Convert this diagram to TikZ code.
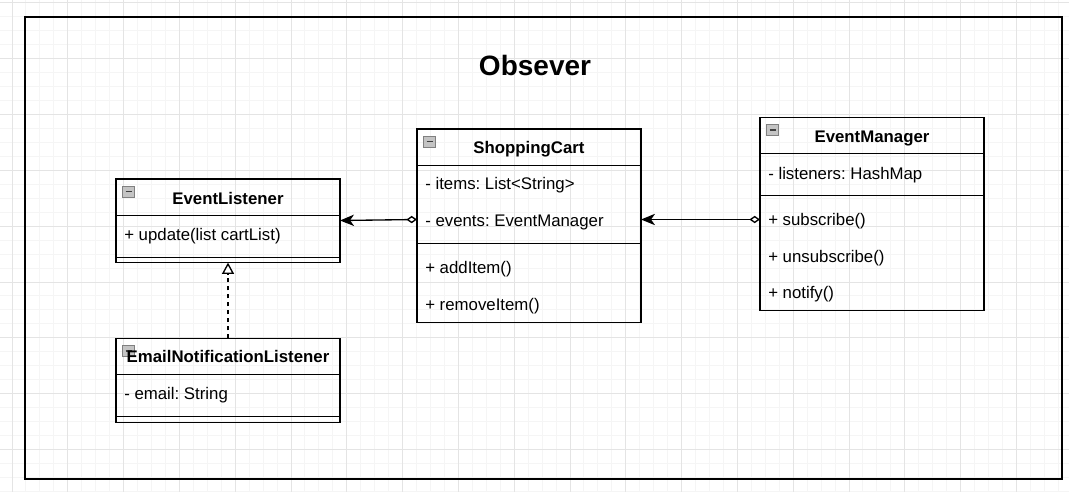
\documentclass[tikz,border=0pt]{standalone}
\usepackage{fontspec}
\setmainfont{Liberation Sans}
\usetikzlibrary{arrows.meta}
\definecolor{gridminor}{HTML}{F5F5F5}
\definecolor{gridmajor}{HTML}{E4E4E4}
\definecolor{iconfill}{HTML}{C4C4C4}
\definecolor{iconline}{HTML}{808080}
\newcommand{\rowfont}{\fontsize{12.6}{15}\selectfont}
\newcommand{\headfont}{\fontsize{12.6}{15}\selectfont\bfseries}
\frenchspacing
\tikzset{
  classbox/.style={draw, line width=1pt, inner sep=0, outer sep=0, anchor=north west, minimum width=168pt},
  member/.style={anchor=base west, inner sep=0, font=\rowfont},
  head/.style={anchor=base, inner sep=0, font=\headfont},
  divider/.style={line width=1pt},
  assoc/.style={line width=1pt, {Diamond[fill=white,length=8pt,width=5.5pt]}-{Stealth[length=10.5pt,width=8.5pt,inset=3pt]}},
  realize/.style={line width=1pt, dash pattern=on 3.2pt off 2.8pt, -{Triangle[fill=white,length=8.5pt,width=9pt]}},
}

\begin{document}
\begin{tikzpicture}[x=0.75pt, y=-0.75pt]

\fill[white] (0,0) rectangle (1069,492);
\useasboundingbox (0,0) rectangle (1069,492);

% canvas grid
\foreach \k in {0,...,75} {
  \pgfmathsetmacro\gx{12+\k*13.95}
  \draw[gridminor, line width=0.75pt] (\gx,0) -- (\gx,492);
}
\foreach \k in {0,...,35} {
  \pgfmathsetmacro\gy{3+\k*13.95}
  \draw[gridminor, line width=0.75pt] (0,\gy) -- (1069,\gy);
}
\foreach \k in {0,...,18} {
  \pgfmathsetmacro\gx{12+\k*55.8}
  \draw[gridmajor, line width=0.75pt] (\gx,0) -- (\gx,492);
}
\foreach \k in {0,...,8} {
  \pgfmathsetmacro\gy{3+\k*55.8}
  \draw[gridmajor, line width=0.75pt] (0,\gy) -- (1069,\gy);
}

% frame and title
\draw[line width=1.5pt] (25,17) rectangle (1062,478.5);
\node[anchor=base, inner sep=0, font=\fontsize{21}{25}\selectfont\bfseries] (title) at (535,75) {Obsever};

% classes
\node[classbox, minimum height=62.7pt] (el) at (116,179) {};
\node[classbox, minimum height=144.9pt] (sc) at (417,129) {};
\node[classbox, minimum height=144.9pt] (em) at (760,117.3) {};
\node[classbox, minimum height=63pt] (enl) at (116,338.3) {};

\draw[divider] ([shift={(0,36.4)}]el.north west) -- ++(224,0);
\draw[divider] ([shift={(0,78.4)}]el.north west) -- ++(224,0);
\draw[divider] ([shift={(0,36.4)}]sc.north west) -- ++(224,0);
\draw[divider] ([shift={(0,114.8)}]sc.north west) -- ++(224,0);
\draw[divider] ([shift={(0,36.4)}]em.north west) -- ++(224,0);
\draw[divider] ([shift={(0,78.4)}]em.north west) -- ++(224,0);
\draw[divider] ([shift={(0,36.4)}]enl.north west) -- ++(224,0);
\draw[divider] ([shift={(0,78.4)}]enl.north west) -- ++(224,0);

% collapse icons
\foreach \c in {el,sc,em,enl} {
  \draw[iconline, fill=iconfill, line width=0.6pt] ([shift={(6.5,7)}]\c.north west) rectangle ++(12,11);
  \draw[black!75, line width=1.1pt] ([shift={(9.5,12.5)}]\c.north west) -- ++(6,0);
}

\node[head] (elname) at (228,204.3) {EventListener};
\node[member] (elupdate) at (124,240) {+ update(list cartList)};

\node[head] (scname) at (529,153.3) {ShoppingCart};
\node[member] (scitems) at (425,189) {- items: List<String>};
\node[member] (scevents) at (425,226) {- events: EventManager};
\node[member] (scadd) at (425,273.5) {+ addItem()};
\node[member] (scremove) at (425,310) {+ removeItem()};

\node[head] (emname) at (872,142.3) {EventManager};
\node[member] (emlisteners) at (768,179) {- listeners: HashMap};
\node[member] (emsub) at (768,225) {+ subscribe()};
\node[member] (emunsub) at (768,262) {+ unsubscribe()};
\node[member] (emnotify) at (768,298.5) {+ notify()};

\node[head] (enlname) at (228,362.7) {EmailNotificationListener};
\node[member] (enlemail) at (124,399.3) {- email: String};

% relations
\draw[assoc] (sc.west |- 0,219.5) -- (el.east |- 0,220.5);
\draw[assoc] (em.west |- 0,219.5) -- (sc.east |- 0,219.5);
\draw[realize] (enl.north) -- (el.south);

\end{tikzpicture}
\end{document}
